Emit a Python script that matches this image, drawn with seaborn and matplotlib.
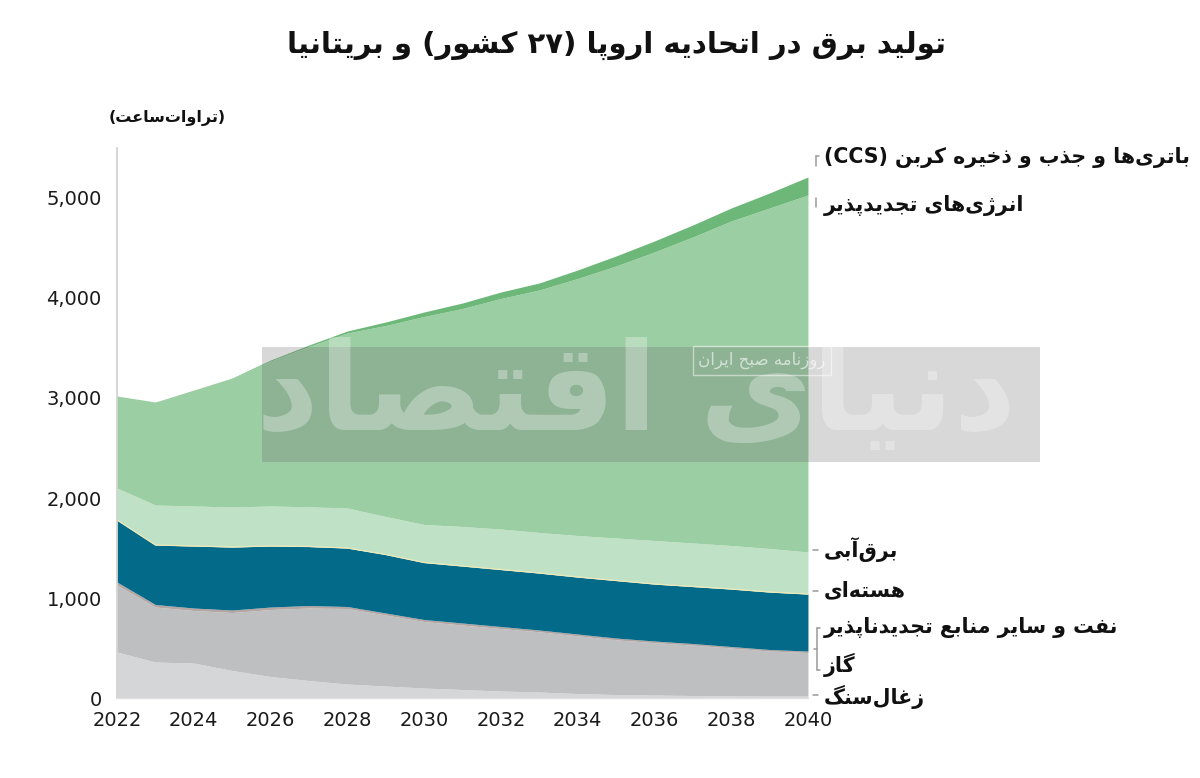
import matplotlib
matplotlib.use('Agg')
import matplotlib.pyplot as plt
import seaborn as sns
import numpy as np
from matplotlib.lines import Line2D
from matplotlib.patches import Rectangle
from matplotlib.ticker import FuncFormatter

# values (TWh), EU-27 + UK
years = [2022, 2023, 2024, 2025, 2026, 2027, 2028, 2029, 2030, 2031,
         2032, 2033, 2034, 2035, 2036, 2037, 2038, 2039, 2040]
coal = [460, 360, 350, 275, 215, 175, 140, 120, 100, 85,
        70, 60, 45, 35, 30, 25, 22, 20, 20]
gas = [670, 550, 525, 580, 670, 725, 755, 710, 665, 645,
       625, 602, 577, 547, 524, 504, 478, 450, 435]
oil_other = [30, 25, 25, 25, 25, 25, 20, 20, 20, 20,
             20, 18, 18, 18, 16, 16, 15, 15, 15]
nuclear = [620, 595, 620, 630, 610, 590, 585, 585, 570, 570,
           570, 570, 570, 575, 570, 570, 575, 575, 570]
hydro = [320, 400, 400, 400, 400, 397, 400, 380, 380, 395,
         405, 405, 415, 425, 435, 435, 435, 435, 420]
renewables = [920, 1030, 1160, 1285, 1450, 1603, 1750, 1910, 2080, 2180,
              2305, 2425, 2570, 2720, 2885, 3060, 3245, 3405, 3570]
batteries_ccs = [0, 0, 0, 5, 10, 15, 20, 35, 45, 55,
                 65, 70, 85, 100, 110, 120, 130, 150, 180]

colors = ['#d5d6d8', '#bebfc1', '#b3a6a3', '#036a8a', '#bfe1c5', '#9ccea4', '#6db879']

title = 'تولید برق در اتحادیه اروپا (\u06f2\u06f7 کشور) و بریتانیا'
unit_label = '(تراوات\u200cساعت)'
series_labels = [
    'باتری\u200cها و جذب و ذخیره کربن (CCS)',
    'انرژی\u200cهای تجدیدپذیر',
    'برق\u200cآبی',
    'هسته\u200cای',
    'نفت و سایر منابع تجدیدناپذیر',
    'گاز',
    'زغال\u200cسنگ',
]

# --- minimal Persian shaping + RTL reordering (matplotlib has no bidi) ---
FORMS = {
    'ا': (0xFE8D, 2), 'آ': (0xFE81, 2), 'ب': (0xFE8F, 4), 'ت': (0xFE95, 4),
    'ث': (0xFE99, 4), 'ج': (0xFE9D, 4), 'ح': (0xFEA1, 4), 'خ': (0xFEA5, 4),
    'د': (0xFEA9, 2), 'ذ': (0xFEAB, 2), 'ر': (0xFEAD, 2), 'ز': (0xFEAF, 2),
    'س': (0xFEB1, 4), 'ش': (0xFEB5, 4), 'ص': (0xFEB9, 4), 'ض': (0xFEBD, 4),
    'ط': (0xFEC1, 4), 'ظ': (0xFEC5, 4), 'ع': (0xFEC9, 4), 'غ': (0xFECD, 4),
    'ف': (0xFED1, 4), 'ق': (0xFED5, 4), 'ل': (0xFEDD, 4), 'م': (0xFEE1, 4),
    'ن': (0xFEE5, 4), 'ه': (0xFEE9, 4), 'و': (0xFEED, 2), 'پ': (0xFB56, 4),
    'چ': (0xFB7A, 4), 'ژ': (0xFB8A, 2), 'ک': (0xFB8E, 4), 'گ': (0xFB92, 4),
    'ی': (0xFBFC, 4), '\u064a': (0xFEF1, 4), '\u0643': (0xFED9, 4),
    '\u0649': (0xFEEF, 2),
}
MIRROR = {'(': ')', ')': '('}


def fa(text):
    shaped = []
    for i, ch in enumerate(text):
        if ch not in FORMS:
            shaped.append(ch)
            continue
        base, n = FORMS[ch]
        prev = text[i - 1] if i > 0 else ''
        nxt = text[i + 1] if i + 1 < len(text) else ''
        join_prev = prev in FORMS and FORMS[prev][1] == 4
        join_next = n == 4 and nxt in FORMS
        if join_prev and join_next:
            shaped.append(chr(base + 3))
        elif join_prev:
            shaped.append(chr(base + 1))
        elif join_next:
            shaped.append(chr(base + 2))
        else:
            shaped.append(chr(base))
    shaped = ''.join(shaped).replace('\u200c', '')
    # split into units, keeping latin / digit runs in LTR order
    units, run = [], ''
    for ch in shaped:
        if ch.isascii() and ch.isalnum() or '\u06f0' <= ch <= '\u06f9':
            run += ch
        else:
            if run:
                units.append(run)
                run = ''
            units.append(MIRROR.get(ch, ch))
    if run:
        units.append(run)
    return ''.join(reversed(units))


sns.set_theme(style='white')
plt.rcParams['font.family'] = ['DejaVu Sans']

fig = plt.figure(figsize=(12, 7.78), dpi=100)
ax = fig.add_axes([0.0975, 0.1028, 0.5758, 0.707])

ax.stackplot(years, coal, gas, oil_other, nuclear, hydro, renewables, batteries_ccs,
             colors=colors, linewidth=0)

# thin pale edge between nuclear and hydro as on the original
nuc_top = np.cumsum([coal, gas, oil_other, nuclear], axis=0)[-1]
ax.plot(years, nuc_top, color='#eeeab8', lw=0.9)

ax.set_xlim(2022, 2040)
ax.set_ylim(0, 5500)
ax.set_xticks(range(2022, 2041, 2))
ax.set_yticks(range(0, 5001, 1000))
ax.yaxis.set_major_formatter(FuncFormatter(lambda v, p: f'{int(v):,}'))
ax.tick_params(axis='both', length=0, labelsize=14, colors='#1a1a1a')
ax.tick_params(axis='y', pad=11)
ax.tick_params(axis='x', pad=9)
sns.despine(ax=ax, top=True, right=True)
ax.spines['left'].set_color('#d0d0d0')
ax.spines['left'].set_linewidth(1.2)
ax.spines['bottom'].set_color('#e0e0e0')
ax.spines['bottom'].set_linewidth(1.0)
ax.grid(False)

# title and unit
fig.text(0.514, 0.942, fa(title), ha='center', va='center',
         fontsize=21, fontweight='bold', color='#111111')
fig.text(0.139, 0.848, fa(unit_label), ha='center', va='center',
         fontsize=11.5, fontweight='bold', color='#111111')

# right-hand series labels
label_y = [158, 205, 550, 590, 628, 665, 697]
for txt, yy in zip(series_labels, label_y):
    fig.text(824 / 1200, 1 - yy / 778, fa(txt), ha='left', va='center',
             fontsize=14.8, fontweight='bold', color='#111111')


def fig_line(x0, y0, x1, y1):
    fig.add_artist(Line2D([x0 / 1200, x1 / 1200], [1 - y0 / 778, 1 - y1 / 778],
                          color='#9a9a9a', lw=1.1))


# small guide marks next to the labels
fig_line(816, 156, 816, 166)
fig_line(816, 156, 819, 156)
fig_line(816, 198, 816, 207)
fig_line(813, 550, 818, 550)
fig_line(813, 591, 818, 591)
fig_line(817, 628, 817, 670)
fig_line(817, 628, 820, 628)
fig_line(817, 670, 820, 670)
fig_line(814, 649, 817, 649)
fig_line(813, 695, 818, 695)

# newspaper watermark band
fig.add_artist(Rectangle((262 / 1200, 1 - 462 / 778), 778 / 1200, 115 / 778,
                         transform=fig.transFigure, color='#666666', alpha=0.25, lw=0))
fig.text(0.53, 0.49, fa('دنیای اقتصاد'), ha='center', va='center',
         fontsize=88, fontweight='bold', color='white', alpha=0.3)
fig.text(0.635, 0.537, fa('روزنامه صبح ایران'), ha='center', va='center',
         fontsize=12, color='white', alpha=0.6,
         bbox=dict(facecolor='none', edgecolor='white', alpha=0.5, pad=4))

plt.savefig('out.png', dpi=100)
